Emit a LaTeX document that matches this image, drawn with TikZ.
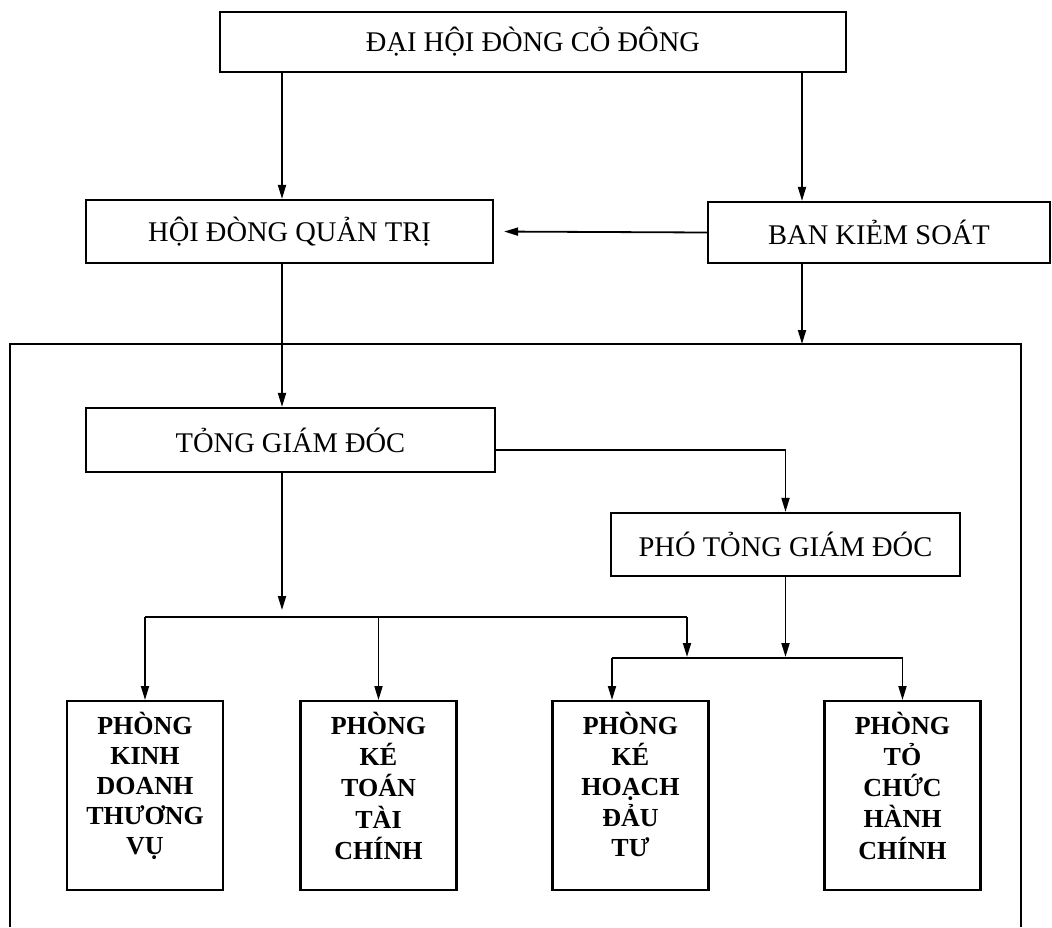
\documentclass[tikz,border=0pt]{standalone}
\usepackage{fontspec}
\setmainfont{Liberation Serif}
\usetikzlibrary{arrows.meta}
\begin{document}
\begin{tikzpicture}[x=1pt,y=-1pt,
  box/.style={draw,line width=2.2pt,inner sep=0pt,font=\fontsize{28.5}{32}\selectfont},
  dept/.style={draw,line width=2.2pt,inner sep=0pt,anchor=north,minimum width=156pt,
    text height=33pt,text depth=156pt,font=\fontsize{26}{30}\selectfont\bfseries},
  conn/.style={line width=1.8pt},
  arr/.style={conn,-{Triangle[length=14pt,width=8pt]}},
  frame/.style={line width=1.4pt}]
\useasboundingbox (0,0) rectangle (1052,927);
\fill[white] (0,0) rectangle (1052,927);

% frame
\coordinate (fTL) at (10,344);
\coordinate (fTR) at (1021,344);
\coordinate (fBL) at (10,927);
\coordinate (fBR) at (1021,927);
\draw[frame] (fBL) -- (fTL) -- (fTR) -- (fBR);

% nodes
\node[box,minimum width=626pt,minimum height=60pt] (dh) at (533,42) {ĐẠI HỘI ĐÒNG CỎ ĐÔNG};
\node[box,minimum width=407pt,minimum height=63pt] (hd) at (289.5,231.5) {HỘI ĐÒNG QUẢN TRỊ};
\node[box,minimum width=342pt,minimum height=61pt] (bk) at (879,232.5) {BAN KIẺM SOÁT};
\node[box,minimum width=409pt,minimum height=64pt] (tg) at (290.5,440) {TỎNG GIÁM ĐÓC};
\node[box,minimum width=349pt,minimum height=63pt] (pt) at (785.5,544.5) {PHÓ TỎNG GIÁM ĐÓC};

\node[dept] (d1) at (145,700) {\begin{tabular}[t]{@{}c@{}}PHÒNG\\KINH\\DOANH\\THƯƠNG\\VỤ\end{tabular}};
\node[dept] (d2) at (378.5,700) {\begin{tabular}[t]{@{}c@{}}PHÒNG\\KÉ\\TOÁN\\TÀI\\CHÍNH\end{tabular}};
\node[dept] (d3) at (630.5,700) {\begin{tabular}[t]{@{}c@{}}PHÒNG\\KÉ\\HOẠCH\\ĐẢU\\TƯ\end{tabular}};
\node[dept] (d4) at (902.5,700) {\begin{tabular}[t]{@{}c@{}}PHÒNG\\TỎ\\CHỨC\\HÀNH\\CHÍNH\end{tabular}};

% connectors
\coordinate (xL) at (282,0);
\coordinate (xR) at (802,0);
\draw[arr] (xL |- dh.south) -- (xL |- hd.north);
\draw[arr] (xR |- dh.south) -- (xR |- bk.north);
\draw[arr,shorten >=10pt] (bk.west) -- (hd.east);
\draw[arr] (xR |- bk.south) -- (xR |- fTL);
\draw[arr] (xL |- hd.south) -- (xL |- tg.north);
\draw[arr] ([yshift=-10pt]tg.east) -| (pt.north);

\coordinate (j0) at (282,610);
\draw[arr] (xL |- tg.south) -- (j0);
\coordinate (j1) at (687,617);
\draw[conn] (d1.north |- j1) -- (j1);
\draw[arr] (d1.north |- j1) -- (d1.north);
\draw[arr] (d2.north |- j1) -- (d2.north);
\coordinate (j2) at (687,657);
\draw[arr] (j1) -- (j2);

\coordinate (k1) at (612,658);
\draw[arr] (pt.south) -- (pt.south |- j2);
\draw[conn,line width=2.4pt] (k1) -- (d4.north |- k1);
\draw[arr] (k1) -- (k1 |- d3.north);
\draw[arr] (d4.north |- k1) -- (d4.north);
\end{tikzpicture}
\end{document}
